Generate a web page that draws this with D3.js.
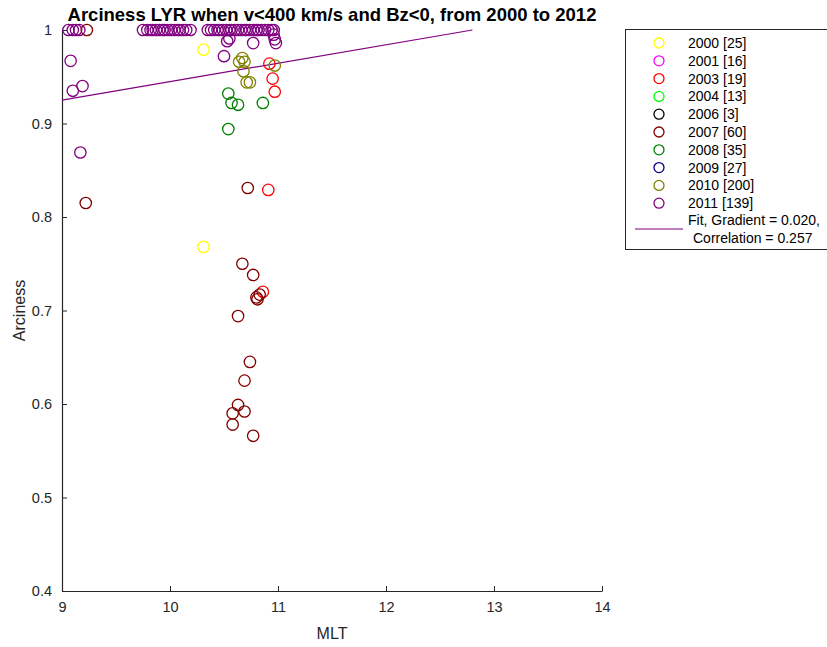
<!DOCTYPE html>
<html>
<head>
<meta charset="utf-8">
<script src="https://cdn.jsdelivr.net/npm/d3@7"></script>
<style>
  body { margin: 0; background: #fff; }
  svg { font-family: "Liberation Sans", Arial, sans-serif; }
</style>
</head>
<body>
<svg id="grafico"></svg>
<script>
// legend entries
const anos = ['2000', '2001', '2003', '2004', '2006', '2007', '2008', '2009', '2010', '2011'];
const contagens = [25, 16, 19, 13, 3, 60, 35, 27, 200, 139];
const cores = ['#ffff00', '#ff00ff', '#ff0000', '#00ff00', '#000000', '#800000', '#008000', '#000080', '#808000', '#800080'];

// points per year: [MLT, arciness]
const pts2000 = [[10.31, 0.979], [10.31, 0.768]];
const pts2001 = [];
const pts2003 = [[10.92, 0.964], [10.95, 0.948], [10.97, 0.934], [10.91, 0.829], [10.86, 0.720]];
const pts2004 = [];
const pts2006 = [];
const pts2007 = [[9.23, 1.0], [9.22, 0.815], [10.72, 0.831],
  [10.67, 0.750], [10.77, 0.738], [10.83, 0.717], [10.80, 0.714], [10.81, 0.712],
  [10.63, 0.694], [10.74, 0.645], [10.69, 0.625], [10.63, 0.599], [10.69, 0.592],
  [10.58, 0.590], [10.58, 0.578], [10.77, 0.566]];
const pts2008 = [[10.54, 0.932], [10.57, 0.922], [10.63, 0.920], [10.86, 0.922], [10.54, 0.894]];
const pts2009 = [];
const pts2010 = [[10.64, 0.966], [10.67, 0.970], [10.69, 0.966], [10.68, 0.956],
  [10.71, 0.944], [10.74, 0.944], [10.97, 0.962]];
const pts2011 = [[9.06, 1.0], [9.10, 1.0], [9.13, 1.0], [9.16, 1.0],
  [9.75, 1.0], [9.79, 1.0], [9.82, 1.0], [9.84, 1.0], [9.87, 1.0], [9.90, 1.0],
  [9.93, 1.0], [9.95, 1.0], [9.98, 1.0], [10.01, 1.0], [10.04, 1.0], [10.07, 1.0],
  [10.09, 1.0], [10.12, 1.0], [10.15, 1.0], [10.19, 1.0],
  [10.35, 1.0], [10.38, 1.0], [10.41, 1.0], [10.44, 1.0], [10.46, 1.0], [10.49, 1.0],
  [10.52, 1.0], [10.55, 1.0], [10.57, 1.0], [10.60, 1.0], [10.63, 1.0], [10.66, 1.0],
  [10.69, 1.0], [10.71, 1.0], [10.74, 1.0], [10.77, 1.0], [10.80, 1.0], [10.82, 1.0],
  [10.85, 1.0], [10.88, 1.0], [10.91, 1.0], [10.94, 1.0], [10.96, 1.0],
  [10.53, 0.988], [10.55, 0.991], [10.77, 0.986], [10.96, 0.995], [10.97, 0.990],
  [10.98, 0.986], [10.50, 0.972], [9.08, 0.967], [9.10, 0.935], [9.19, 0.940], [9.17, 0.869]];
const pontos = [pts2000, pts2001, pts2003, pts2004, pts2006, pts2007, pts2008, pts2009, pts2010, pts2011];

// fit line endpoints
const ajusteMLT = [9, 12.8];
const ajusteArc = [0.925, 1.0];
const rotuloAjuste = ['Fit, Gradient = 0.020,', 'Correlation = 0.257'];

const xTicks = [9, 10, 11, 12, 13, 14];
const yTicks = [0.4, 0.5, 0.6, 0.7, 0.8, 0.9, 1];

const largura = 827, altura = 647;
const margem = { esquerda: 62, direita: 225, superior: 30, inferior: 56 };
const corEixo = '#262626';

let svg = d3.select('#grafico').attr('width', largura).attr('height', altura);

let fnX = d3.scaleLinear().domain([9, 14]).range([margem.esquerda, largura - margem.direita]);
let fnY = d3.scaleLinear().domain([0.4, 1]).range([altura - margem.inferior, margem.superior]);

// axes (box off, ticks inside)
let eixoX = svg.append('g').attr('transform', 'translate(0,' + fnY(0.4) + ')')
  .call(d3.axisBottom(fnX).tickValues(xTicks).tickSizeInner(-5).tickSizeOuter(0).tickPadding(11).tickFormat(d3.format('d')));
let eixoY = svg.append('g').attr('transform', 'translate(' + fnX(9) + ',0)')
  .call(d3.axisLeft(fnY).tickValues(yTicks).tickSizeInner(-5).tickSizeOuter(0).tickPadding(10).tickFormat(d => d === 1 ? '1' : d3.format('.1f')(d)));
[eixoX, eixoY].forEach(e => {
  e.select('.domain').attr('stroke', corEixo).attr('stroke-width', 1.2);
  e.selectAll('.tick line').attr('stroke', corEixo);
  e.selectAll('.tick text').attr('fill', '#262626').style('font-size', '14.5px');
});

// fit line
svg.append('line')
  .attr('x1', fnX(ajusteMLT[0])).attr('y1', fnY(ajusteArc[0]))
  .attr('x2', fnX(ajusteMLT[1])).attr('y2', fnY(ajusteArc[1]))
  .attr('stroke', '#800080').attr('stroke-width', 1.2);

// points
pontos.forEach((lista, i) => {
  svg.append('g').selectAll('circle').data(lista).enter().append('circle')
    .attr('cx', d => fnX(d[0]))
    .attr('cy', d => fnY(d[1]))
    .attr('r', 5.7)
    .attr('fill', 'none')
    .attr('stroke', cores[i])
    .attr('stroke-width', 1.3);
});

// titles
svg.append('text').attr('x', fnX(11.5)).attr('y', 21).attr('text-anchor', 'middle')
  .style('font-size', '18.5px').style('font-weight', 'bold').text('Arciness LYR when v<400 km/s and Bz<0, from 2000 to 2012');
svg.append('text').attr('x', fnX(11.5)).attr('y', 639).attr('text-anchor', 'middle')
  .style('font-size', '16px').attr('fill', '#262626').text('MLT');
svg.append('text').attr('transform', 'translate(25,' + fnY(0.7) + ') rotate(-90)').attr('text-anchor', 'middle')
  .style('font-size', '16px').attr('fill', '#262626').text('Arciness');

// legend
let legenda = svg.append('g');
legenda.append('rect').attr('x', 625.5).attr('y', 29.5).attr('width', 220).attr('height', 220)
  .attr('fill', '#fff').attr('stroke', '#262626').attr('stroke-width', 1);
anos.forEach((a, i) => {
  let y = 43 + i * 17.8;
  legenda.append('circle').attr('cx', 659).attr('cy', y).attr('r', 5)
    .attr('fill', 'none').attr('stroke', cores[i]).attr('stroke-width', 1.3);
  legenda.append('text').attr('x', 688).attr('y', y + 5).style('font-size', '14px')
    .text(a + ' [' + contagens[i] + ']');
});
legenda.append('line').attr('x1', 635).attr('x2', 683).attr('y1', 229).attr('y2', 229)
  .attr('stroke', '#800080').attr('stroke-width', 1.2);
legenda.append('text').attr('x', 688).attr('y', 225).style('font-size', '14px').text(rotuloAjuste[0]);
legenda.append('text').attr('x', 693).attr('y', 243).style('font-size', '14px').text(rotuloAjuste[1]);
</script>
</body>
</html>
